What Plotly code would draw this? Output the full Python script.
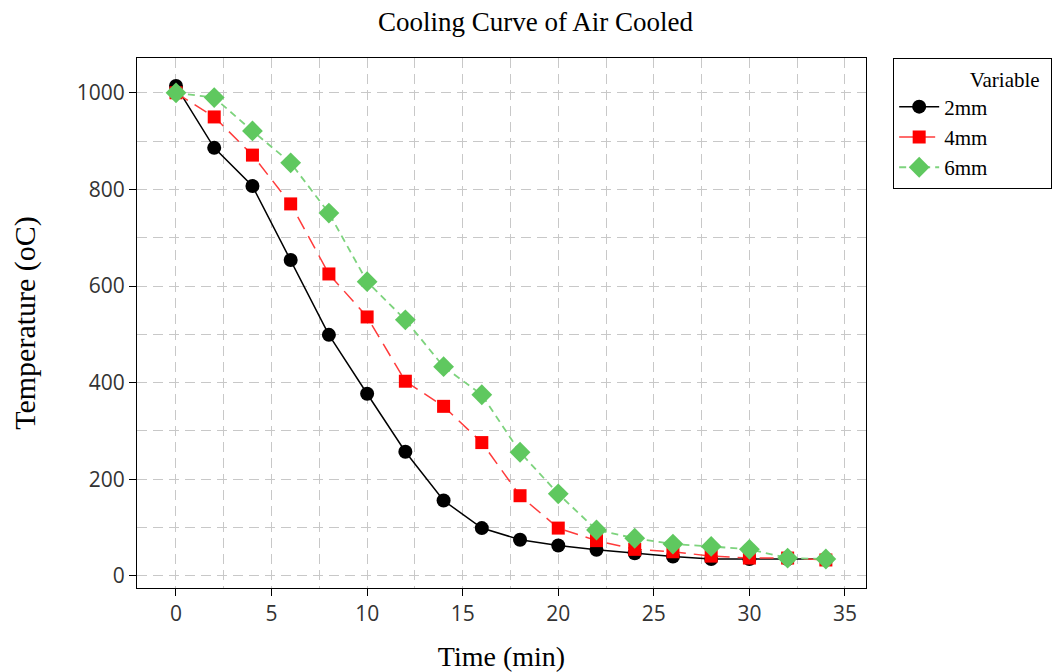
import plotly.graph_objects as go

time_min = [0, 2, 4, 6, 8, 10, 12, 14, 16, 18, 20, 22, 24, 26, 28, 30, 32, 34]
temp_2mm = [1014, 886, 807, 654, 499, 377, 257, 156, 99, 75, 63, 54, 47, 40, 35, 35, 35, 35]
temp_4mm = [1000, 950, 871, 770, 625, 536, 403, 351, 276, 166, 99, 73, 55, 50, 41, 37, 37, 33]
temp_6mm = [1000, 990, 921, 855, 751, 609, 530, 433, 375, 256, 170, 95, 78, 66, 61, 55, 37, 35]
series_names = ["2mm", "4mm", "6mm"]

serif = "Liberation Serif, Times New Roman, serif"
sans = "Open Sans, DejaVu Sans, Arial, sans-serif"
pad = "&nbsp;" * 11

fig = go.Figure()
fig.add_trace(go.Scatter(x=time_min, y=temp_2mm, name=series_names[0] + pad, mode="lines+markers",
                         line=dict(color="black", width=1.5, dash="solid"),
                         marker=dict(symbol="circle", size=14, color="black")))
fig.add_trace(go.Scatter(x=time_min, y=temp_4mm, name=series_names[1] + pad, mode="lines+markers",
                         line=dict(color="#ff3b3b", width=1.5, dash="14px,8px"),
                         marker=dict(symbol="square", size=13, color="#ff0000")))
fig.add_trace(go.Scatter(x=time_min, y=temp_6mm, name=series_names[2] + pad, mode="lines+markers",
                         line=dict(color="#7dd37d", width=1.8, dash="7px,5px"),
                         marker=dict(symbol="diamond", size=16, color="#5fc85f")))

grid = "#c8c8c8"
gdash = "10px,6px"
fig.update_layout(
    width=1055, height=664,
    paper_bgcolor="white", plot_bgcolor="white",
    margin=dict(l=129, r=197, t=50, b=84, autoexpand=False),
    title=dict(text="Cooling Curve of Air Cooled", x=0.5, xanchor="center", y=0.979, yanchor="middle",
               font=dict(family=serif, size=27, color="black")),
    xaxis=dict(range=[-2.04, 36.1], tickmode="linear", tick0=0, dtick=5, automargin=False,
               showgrid=True, gridcolor=grid, griddash=gdash, gridwidth=1.3,
               minor=dict(dtick=2.5, showgrid=True, gridcolor=grid, griddash=gdash, gridwidth=1.3),
               ticks="outside", ticklen=7, tickcolor="black",
               showline=True, linecolor="black", linewidth=1.2, mirror=True, zeroline=False,
               tickfont=dict(family=sans, size=21, color="#333"),
               title=dict(text="Time (min)", font=dict(family=serif, size=28, color="black"), standoff=21)),
    yaxis=dict(range=[-25, 1072], tickmode="linear", tick0=0, dtick=200, automargin=False,
               showgrid=True, gridcolor=grid, griddash=gdash, gridwidth=1.3,
               minor=dict(dtick=100, showgrid=True, gridcolor=grid, griddash=gdash, gridwidth=1.3),
               ticks="outside", ticklen=7, tickcolor="black",
               showline=True, linecolor="black", linewidth=1.2, mirror=True, zeroline=False,
               tickfont=dict(family=sans, size=21, color="#333"),
               title=dict(text="Temperature (oC)", font=dict(family=serif, size=30, color="black"), standoff=32)),
    legend=dict(x=1.037, y=1.0, xanchor="left", yanchor="top",
                bordercolor="black", borderwidth=1.2, bgcolor="white",
                title=dict(text="&nbsp;" * 14 + "Variable", side="top", font=dict(family=serif, size=21, color="black")),
                font=dict(family=serif, size=21, color="black"),
                itemwidth=40, tracegroupgap=0),
    showlegend=True,
)

fig.write_html("out.html")
